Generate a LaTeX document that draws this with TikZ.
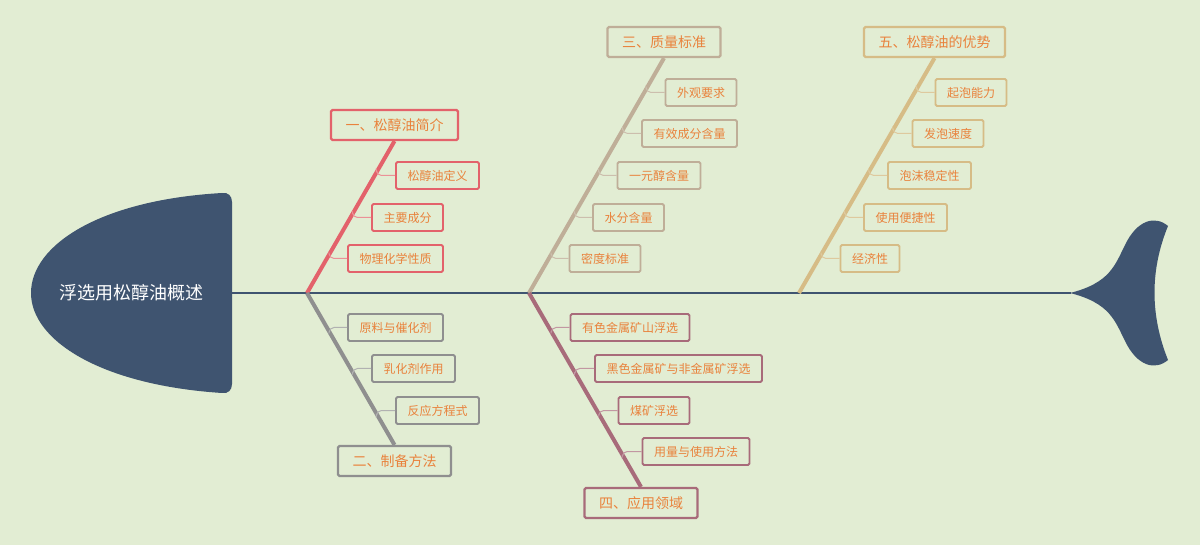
\documentclass[tikz,border=0pt]{standalone}
\usepackage{fontspec}
\setmainfont{Noto Sans CJK SC}
\usetikzlibrary{calc}
\definecolor{bgcol}{HTML}{E2EDD3}
\definecolor{fishcol}{HTML}{3F5470}
\definecolor{txtcol}{HTML}{E9823C}
\definecolor{redcol}{HTML}{E3626B}
\definecolor{greycol}{HTML}{8F8F8F}
\definecolor{tancol}{HTML}{BFAE98}
\definecolor{mauvecol}{HTML}{A86B7A}
\definecolor{goldcol}{HTML}{D6BC86}
\begin{document}
\begin{tikzpicture}[x=1pt,y=-1pt,
	mainbox/.style={draw,line width=2.2pt,rounded corners=1.5pt,fill=bgcol,text=txtcol,minimum height=30pt,inner xsep=14.5pt,inner ysep=0pt,font=\fontsize{14}{16}\selectfont},
	subbox/.style={draw,line width=1.8pt,rounded corners=1.5pt,fill=bgcol,text=txtcol,minimum height=27pt,inner xsep=11.5pt,inner ysep=0pt,font=\fontsize{12}{14}\selectfont},
	bone/.style={line width=4pt},
	twig/.style={line width=1pt,rounded corners=5pt}]
	\fill[bgcol] (0,0) rectangle (1200,545);
	\useasboundingbox (0,0) rectangle (1200,545);
	% head and tail
	\fill[fishcol] (222,193) .. controls (228,192) and (232,196) .. (232,202) -- (232,384)
		.. controls (232,390) and (228,394) .. (222,393) .. controls (100,385) and (31,340) .. (31,293)
		.. controls (31,245) and (100,200) .. (222,193) -- cycle;
	\fill[fishcol] (1070,293) .. controls (1110,283) and (1115,265) .. (1125,245)
		.. controls (1137,220) and (1155,215) .. (1168,226) .. controls (1150,270) and (1150,315) .. (1168,360)
		.. controls (1155,371) and (1137,366) .. (1125,341) .. controls (1115,321) and (1110,303) .. (1070,293) -- cycle;
	\node[text=white,font=\fontsize{18}{20}\selectfont] (head) at (131,293) {浮选用松醇油概述};
	\coordinate (neck) at (232,293);
	\coordinate (tail) at (1071,293);
	\coordinate (j1) at (307,293);
	\coordinate (j2) at (529,293);
	\coordinate (j3) at (799,293);
	\draw[fishcol,line width=2pt] (neck) -- (tail);
	% main bones
	\node[mainbox,draw=redcol] (intro) at (394.5,125) {一、松醇油简介};
	\node[mainbox,draw=greycol] (prep) at (394.5,461) {二、制备方法};
	\node[mainbox,draw=tancol] (quality) at (664,42) {三、质量标准};
	\node[mainbox,draw=mauvecol] (usage) at (641,503) {四、应用领域};
	\node[mainbox,draw=goldcol] (merit) at (934.5,42) {五、松醇油的优势};
	\draw[bone,redcol] (j1) -- (intro.south);
	\draw[bone,greycol] (j1) -- (prep.north);
	\draw[bone,tancol] (j2) -- (quality.south);
	\draw[bone,mauvecol] (j2) -- (usage.north);
	\draw[bone,goldcol] (j3) -- (merit.south);
	% sub items
	\node[subbox,draw=redcol] (intro1) at (437.5,175.5) {松醇油定义};
	\node[subbox,draw=redcol] (intro2) at (407.5,217.5) {主要成分};
	\node[subbox,draw=redcol] (intro3) at (395.5,258.5) {物理化学性质};
	\node[subbox,draw=greycol] (prep1) at (395.5,327.5) {原料与催化剂};
	\node[subbox,draw=greycol] (prep2) at (413.5,368.5) {乳化剂作用};
	\node[subbox,draw=greycol] (prep3) at (437.5,410.5) {反应方程式};
	\node[subbox,draw=tancol] (quality1) at (701,92.5) {外观要求};
	\node[subbox,draw=tancol] (quality2) at (689.5,133.5) {有效成分含量};
	\node[subbox,draw=tancol] (quality3) at (659,175.5) {一元醇含量};
	\node[subbox,draw=tancol] (quality4) at (628.5,217.5) {水分含量};
	\node[subbox,draw=tancol] (quality5) at (605,258.5) {密度标准};
	\node[subbox,draw=mauvecol] (usage1) at (630,327.5) {有色金属矿山浮选};
	\node[subbox,draw=mauvecol] (usage2) at (678.5,368.5) {黑色金属矿与非金属矿浮选};
	\node[subbox,draw=mauvecol] (usage3) at (654,410.5) {煤矿浮选};
	\node[subbox,draw=mauvecol] (usage4) at (696,451.5) {用量与使用方法};
	\node[subbox,draw=goldcol] (merit1) at (971,92.5) {起泡能力};
	\node[subbox,draw=goldcol] (merit2) at (948,133.5) {发泡速度};
	\node[subbox,draw=goldcol] (merit3) at (929.5,175.5) {泡沫稳定性};
	\node[subbox,draw=goldcol] (merit4) at (905.5,217.5) {使用便捷性};
	\node[subbox,draw=goldcol] (merit5) at (870,258.5) {经济性};
	\draw[twig,redcol!70] ($(j1)!0.794!(intro.south)$) |- (intro1.west);
	\draw[twig,redcol!70] ($(j1)!0.52!(intro.south)$) |- (intro2.west);
	\draw[twig,redcol!70] ($(j1)!0.252!(intro.south)$) |- (intro3.west);
	\draw[twig,greycol!70] ($(j1)!0.252!(prep.north)$) |- (prep1.west);
	\draw[twig,greycol!70] ($(j1)!0.52!(prep.north)$) |- (prep2.west);
	\draw[twig,greycol!70] ($(j1)!0.794!(prep.north)$) |- (prep3.west);
	\draw[twig,tancol!80] ($(j2)!0.867!(quality.south)$) |- (quality1.west);
	\draw[twig,tancol!80] ($(j2)!0.693!(quality.south)$) |- (quality2.west);
	\draw[twig,tancol!80] ($(j2)!0.515!(quality.south)$) |- (quality3.west);
	\draw[twig,tancol!80] ($(j2)!0.337!(quality.south)$) |- (quality4.west);
	\draw[twig,tancol!80] ($(j2)!0.163!(quality.south)$) |- (quality5.west);
	\draw[twig,mauvecol!70] ($(j2)!0.197!(usage.north)$) |- (usage1.west);
	\draw[twig,mauvecol!70] ($(j2)!0.408!(usage.north)$) |- (usage2.west);
	\draw[twig,mauvecol!70] ($(j2)!0.623!(usage.north)$) |- (usage3.west);
	\draw[twig,mauvecol!70] ($(j2)!0.833!(usage.north)$) |- (usage4.west);
	\draw[twig,goldcol!80] ($(j3)!0.867!(merit.south)$) |- (merit1.west);
	\draw[twig,goldcol!80] ($(j3)!0.693!(merit.south)$) |- (merit2.west);
	\draw[twig,goldcol!80] ($(j3)!0.515!(merit.south)$) |- (merit3.west);
	\draw[twig,goldcol!80] ($(j3)!0.337!(merit.south)$) |- (merit4.west);
	\draw[twig,goldcol!80] ($(j3)!0.163!(merit.south)$) |- (merit5.west);
\end{tikzpicture}
\end{document}
